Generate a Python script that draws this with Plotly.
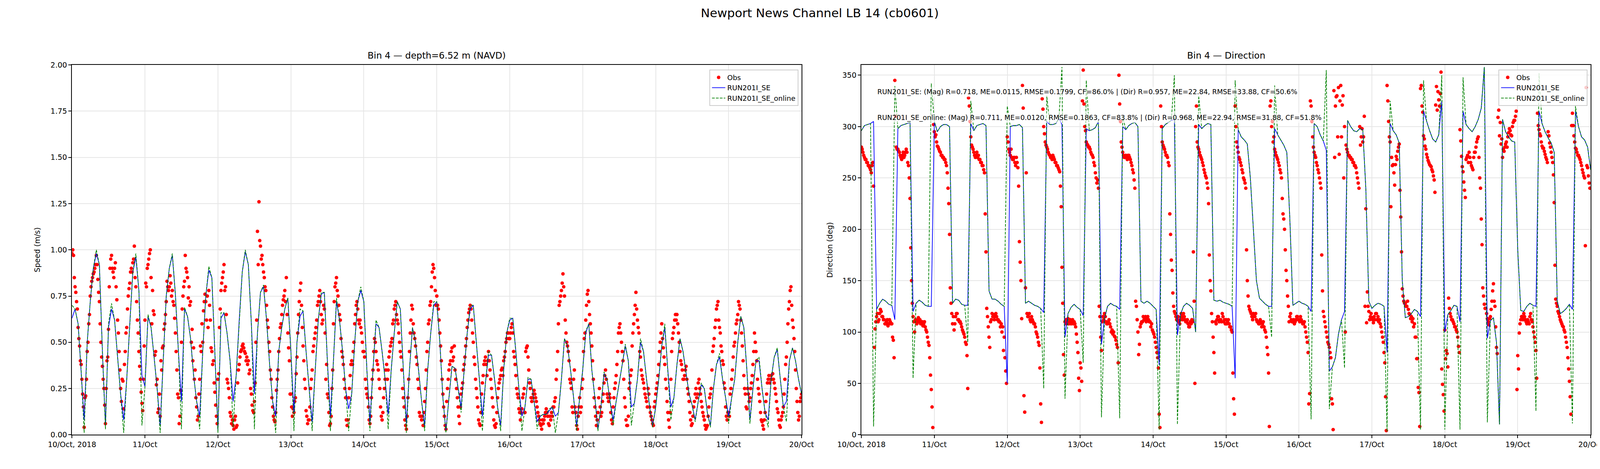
import pandas as pd
import plotly.graph_objects as go

# === Data: 10-20 Oct 2018 ===
start = "2018-10-10"
day_labels = ["10/Oct, 2018", "11/Oct", "12/Oct", "13/Oct", "14/Oct", "15/Oct",
              "16/Oct", "17/Oct", "18/Oct", "19/Oct", "20/Oct"]

# observed speed (m/s), on the hour and half hour, one list per day
obs_spd_10 = [0.98,0.97,0.80,0.72,0.58,0.48,0.38,0.22,0.04,0.21,0.45,0.60,0.75,0.83,0.87,0.90,0.97,0.84,0.72,0.50,0.37,0.25,0.06,0.40,
              0.57,0.90,0.97,0.88,0.90,0.80,0.62,0.45,0.25,0.30,0.14,0.45,0.58,0.75,0.82,0.90,0.93,1.02,0.80,0.62,0.45,0.30,0.17,0.30]
obs_spd_11 = [0.62,0.80,0.92,0.98,0.85,0.78,0.65,0.45,0.30,0.14,0.10,0.35,0.48,0.60,0.72,0.80,0.80,0.82,0.78,0.70,0.55,0.35,0.20,0.10,
              0.50,0.75,0.83,0.90,0.85,0.80,0.72,0.57,0.47,0.35,0.15,0.10,0.30,0.45,0.50,0.72,0.72,0.75,0.78,0.62,0.45,0.40,0.23,0.10]
obs_spd_12 = [0.30,0.58,0.78,0.85,0.92,0.80,0.30,0.25,0.12,0.06,0.05,0.08,0.04,0.28,0.38,0.45,0.48,0.47,0.44,0.42,0.40,0.35,0.22,0.13,
              0.18,0.50,1.10,1.26,1.02,0.97,0.88,0.80,0.70,0.58,0.45,0.30,0.15,0.08,0.12,0.30,0.45,0.58,0.65,0.73,0.78,0.85,0.55,0.40]
obs_spd_13 = [0.22,0.10,0.12,0.20,0.42,0.65,0.78,0.70,0.48,0.30,0.13,0.06,0.08,0.25,0.35,0.48,0.55,0.62,0.72,0.78,0.65,0.62,0.68,0.30,
              0.22,0.12,0.06,0.25,0.60,0.80,0.85,0.75,0.65,0.52,0.42,0.30,0.20,0.05,0.20,0.32,0.40,0.45,0.60,0.70,0.68,0.60,0.58,0.50]
obs_spd_14 = [0.45,0.30,0.22,0.15,0.06,0.20,0.35,0.52,0.45,0.38,0.30,0.15,0.08,0.20,0.30,0.38,0.35,0.45,0.50,0.60,0.68,0.72,0.62,0.55,
              0.45,0.35,0.20,0.08,0.03,0.20,0.45,0.62,0.68,0.55,0.48,0.38,0.25,0.10,0.08,0.05,0.18,0.35,0.50,0.62,0.72,0.88,0.90,0.78]
obs_spd_15 = [0.75,0.68,0.55,0.40,0.22,0.10,0.03,0.25,0.35,0.40,0.47,0.42,0.35,0.25,0.15,0.06,0.22,0.28,0.38,0.48,0.58,0.66,0.70,0.62,
              0.50,0.38,0.25,0.15,0.06,0.12,0.28,0.38,0.42,0.32,0.45,0.35,0.25,0.15,0.05,0.06,0.20,0.28,0.32,0.36,0.40,0.45,0.52,0.55]
obs_spd_16 = [0.52,0.58,0.55,0.42,0.32,0.22,0.14,0.08,0.14,0.22,0.12,0.47,0.42,0.28,0.20,0.20,0.24,0.20,0.15,0.10,0.06,0.03,0.06,0.10,
              0.14,0.10,0.05,0.08,0.10,0.15,0.20,0.35,0.60,0.72,0.78,0.87,0.75,0.55,0.48,0.40,0.28,0.15,0.30,0.15,0.05,0.10,0.20,0.15]
obs_spd_17 = [0.30,0.52,0.62,0.76,0.72,0.60,0.48,0.30,0.15,0.05,0.12,0.25,0.10,0.18,0.28,0.35,0.22,0.18,0.20,0.08,0.15,0.25,0.32,0.45,
              0.58,0.55,0.45,0.30,0.15,0.05,0.10,0.28,0.35,0.55,0.65,0.77,0.62,0.55,0.42,0.32,0.28,0.22,0.18,0.25,0.15,0.10,0.06,0.15]
obs_spd_18 = [0.22,0.28,0.38,0.50,0.60,0.47,0.38,0.25,0.12,0.04,0.30,0.52,0.58,0.65,0.65,0.55,0.45,0.38,0.30,0.32,0.37,0.25,0.18,0.08,
              0.06,0.15,0.22,0.20,0.28,0.25,0.18,0.12,0.08,0.03,0.05,0.15,0.22,0.35,0.48,0.58,0.68,0.72,0.58,0.48,0.40,0.28,0.15,0.08]
obs_spd_19 = [0.12,0.22,0.30,0.42,0.50,0.60,0.65,0.70,0.62,0.48,0.32,0.22,0.14,0.22,0.20,0.28,0.38,0.55,0.45,0.30,0.22,0.12,0.07,0.03,
              0.12,0.22,0.30,0.28,0.32,0.33,0.28,0.22,0.14,0.08,0.04,0.10,0.15,0.30,0.42,0.60,0.72,0.80,0.62,0.52,0.35,0.18,0.08,0.18,0.22]

# observed speed at quarter past / quarter to
obs_spd_10b = [1.00,0.85,0.77,0.68,0.52,0.40,0.30,0.15,0.20,0.30,0.50,0.65,0.80,0.85,0.88,0.92,0.92,0.77,0.60,0.42,0.30,0.16,0.25,0.42,
               0.80,0.95,0.90,0.85,0.93,0.73,0.55,0.35,0.18,0.29,0.38,0.55,0.68,0.79,0.88,0.88,0.95,0.85,0.72,0.55,0.37,0.23,0.13,0.48]
obs_spd_11b = [0.82,0.90,0.95,1.00,0.60,0.67,0.43,0.27,0.12,0.22,0.40,0.47,0.57,0.65,0.83,0.78,0.86,0.75,0.72,0.63,0.45,0.22,0.06,0.24,
               0.68,0.80,0.97,0.88,0.74,0.70,0.50,0.40,0.30,0.20,0.08,0.22,0.48,0.60,0.67,0.76,0.62,0.58,0.70,0.47,0.38,0.28,0.16,0.06]
obs_spd_12b = [0.33,0.68,0.82,0.88,0.78,0.65,0.28,0.20,0.10,0.08,0.03,0.10,0.05,0.35,0.42,0.46,0.49,0.45,0.40,0.38,0.33,0.25,0.16,0.12,
               0.28,0.62,0.92,1.05,0.95,0.92,0.85,0.78,0.62,0.50,0.35,0.20,0.10,0.07,0.24,0.35,0.52,0.60,0.70,0.75,0.72,0.65,0.47,0.22]
obs_spd_13b = [0.15,0.14,0.18,0.33,0.55,0.72,0.82,0.58,0.40,0.25,0.10,0.08,0.15,0.30,0.45,0.52,0.58,0.70,0.75,0.72,0.60,0.70,0.55,0.38,
               0.20,0.05,0.10,0.35,0.72,0.82,0.78,0.70,0.62,0.45,0.38,0.25,0.08,0.08,0.25,0.38,0.38,0.50,0.65,0.72,0.62,0.62,0.55,0.45]
obs_spd_14b = [0.42,0.25,0.20,0.08,0.10,0.30,0.45,0.50,0.40,0.35,0.25,0.10,0.12,0.25,0.35,0.30,0.42,0.48,0.52,0.62,0.70,0.65,0.60,0.50,
               0.42,0.25,0.15,0.05,0.10,0.30,0.55,0.70,0.60,0.52,0.42,0.30,0.12,0.10,0.10,0.12,0.25,0.45,0.60,0.70,0.80,0.92,0.85,0.70]
obs_spd_15b = [0.70,0.62,0.48,0.30,0.15,0.05,0.18,0.30,0.38,0.45,0.40,0.48,0.30,0.20,0.10,0.15,0.25,0.35,0.42,0.52,0.62,0.68,0.68,0.55,
               0.42,0.30,0.20,0.08,0.05,0.22,0.32,0.40,0.38,0.40,0.40,0.30,0.20,0.08,0.04,0.12,0.25,0.30,0.35,0.32,0.42,0.50,0.55,0.52]
obs_spd_16b = [0.55,0.60,0.45,0.38,0.25,0.20,0.12,0.12,0.20,0.25,0.45,0.48,0.35,0.25,0.18,0.22,0.22,0.18,0.12,0.08,0.05,0.08,0.08,0.12,
               0.12,0.06,0.10,0.12,0.15,0.18,0.30,0.45,0.70,0.75,0.82,0.80,0.62,0.50,0.45,0.30,0.25,0.12,0.35,0.12,0.03,0.15,0.12,0.25]
obs_spd_17b = [0.45,0.55,0.70,0.78,0.65,0.55,0.40,0.20,0.10,0.08,0.20,0.15,0.12,0.22,0.32,0.30,0.20,0.22,0.12,0.06,0.20,0.28,0.38,0.55,
               0.60,0.50,0.40,0.20,0.08,0.05,0.25,0.32,0.48,0.60,0.70,0.68,0.58,0.45,0.35,0.30,0.25,0.20,0.15,0.22,0.12,0.08,0.05,0.18]
obs_spd_18b = [0.25,0.32,0.45,0.55,0.52,0.42,0.30,0.18,0.08,0.12,0.45,0.55,0.62,0.62,0.60,0.50,0.40,0.35,0.30,0.35,0.30,0.22,0.12,0.05,
               0.10,0.18,0.25,0.22,0.30,0.22,0.15,0.10,0.05,0.04,0.10,0.20,0.25,0.45,0.52,0.62,0.70,0.62,0.55,0.45,0.38,0.25,0.10,0.12]
obs_spd_19b = [0.10,0.25,0.35,0.48,0.55,0.62,0.72,0.68,0.55,0.40,0.25,0.15,0.25,0.18,0.25,0.32,0.45,0.50,0.40,0.25,0.18,0.08,0.05,0.08,
               0.18,0.28,0.32,0.30,0.30,0.30,0.25,0.18,0.12,0.05,0.08,0.12,0.22,0.38,0.50,0.68,0.78,0.70,0.58,0.45,0.25,0.12,0.10,0.20]

# observed direction (deg), on the hour and half hour
obs_dir_10 = [280,275,270,268,265,262,258,262,242,103,115,110,118,120,115,112,108,112,108,110,108,92,345,280,
              278,275,270,272,270,275,275,262,230,150,115,100,110,112,110,108,110,108,105,100,90,75,44,7]
obs_dir_11 = [295,292,281,278,275,272,270,268,262,240,195,128,108,102,115,118,112,110,105,100,95,88,45,320,
              290,280,275,270,275,272,268,265,262,255,178,115,95,110,118,117,115,115,112,110,108,105,95,62]
obs_dir_12 = [290,278,272,270,268,265,270,260,188,150,340,38,143,118,115,112,115,110,108,100,95,87,30,327,
              300,285,280,275,272,270,272,268,265,262,258,242,163,78,110,108,113,110,108,112,110,105,90,55]
obs_dir_13 = [70,52,355,300,285,282,280,275,272,265,255,245,240,115,82,115,118,110,108,112,105,102,100,95,
              88,70,322,285,275,270,272,268,272,268,262,255,240,125,100,88,108,110,112,115,113,112,110,108]
obs_dir_14 = [100,95,85,75,20,320,285,280,275,272,265,215,170,138,120,115,112,110,112,115,118,112,110,108,
              105,108,110,130,300,285,278,272,268,262,255,250,240,175,140,110,80,110,112,115,112,110,115,112]
obs_dir_15 = [112,110,108,105,100,35,320,285,275,268,262,255,248,240,150,125,120,115,118,115,112,110,108,110,
              108,105,100,85,60,320,300,285,278,272,268,262,255,230,210,180,150,125,115,112,110,108,112,115]
obs_dir_16 = [112,115,110,108,105,95,80,40,320,290,275,270,262,255,245,175,120,110,100,90,85,75,30,335,
              320,330,338,325,290,330,300,282,275,272,270,268,265,262,255,245,300,290,285,310,220,139,120,115]
obs_dir_17 = [114,109,112,118,115,112,105,95,80,37,340,305,285,270,263,243,271,276,283,212,142,130,128,125,
              122,117,115,113,108,95,74,41,337,320,291,281,273,267,263,261,256,248,321,316,326,332,64,39]
obs_dir_18 = [102,82,66,123,115,112,108,105,100,86,297,271,256,238,268,272,275,265,260,270,275,285,290,250,
              210,143,127,123,113,107,115,130,147,125,85,309,291,283,270,276,283,280,294,296,291,304,306,315]
obs_dir_19 = [77,99,112,115,118,112,108,110,115,112,105,95,82,313,297,291,281,279,273,268,295,284,275,265,
              226,132,125,118,112,108,105,100,90,75,52,20,313,291,279,275,272,268,262,255,250,338,260,245,240]

# observed direction at quarter past / quarter to
obs_dir_10b = [278,272,268,265,262,260,255,265,85,110,118,112,122,115,112,108,110,106,112,108,95,75,310,278,
               276,272,268,275,272,278,265,250,182,128,110,112,108,114,112,110,106,110,102,95,87,58,27,302]
obs_dir_11b = [290,285,280,276,272,270,268,265,255,225,143,118,115,108,118,112,110,108,102,98,90,77,328,305,
               282,278,272,272,270,268,265,262,258,215,123,105,85,112,115,112,118,112,110,105,100,82,75,50]
obs_dir_12b = [285,275,278,268,270,262,265,242,168,113,318,22,255,115,118,110,112,108,105,98,90,65,12,317,
               293,282,278,273,270,268,270,265,262,260,256,222,128,58,112,110,108,112,110,108,108,98,80,43]
obs_dir_13b = [65,325,322,296,283,280,278,273,270,262,250,248,125,95,110,112,115,108,110,108,100,98,96,92,
               85,350,305,280,272,270,270,272,270,265,258,248,130,112,78,105,110,115,112,110,115,110,105,102]
obs_dir_14b = [98,90,80,65,7,300,282,278,272,270,262,195,160,125,118,112,115,108,118,112,115,110,112,105,
               110,112,178,50,320,280,275,270,265,258,252,245,225,150,118,95,60,108,115,110,112,118,110,108]
obs_dir_15b = [108,112,105,102,60,20,300,280,270,265,258,250,245,180,135,122,118,112,115,118,110,108,112,105,
               110,102,95,78,8,325,305,290,275,270,265,258,250,215,200,160,135,110,118,110,112,110,115,112]
obs_dir_16b = [110,112,108,110,100,90,30,325,305,280,272,265,258,250,240,140,115,105,95,88,80,35,5,270,
               329,290,273,340,321,250,100,278,272,270,268,265,262,260,250,240,282,298,290,125,109,125,112,118]
obs_dir_17b = [112,115,118,112,110,108,100,90,70,4,325,290,222,262,255,263,268,280,238,178,135,128,125,130,
               118,113,110,105,95,74,46,8,340,314,288,278,270,265,262,258,252,236,339,334,320,353,49,23]
obs_dir_18b = [74,79,133,118,112,110,105,102,95,80,286,261,246,231,270,265,270,262,258,275,280,288,270,240,
               185,135,123,118,110,113,122,140,130,105,79,316,304,288,278,280,285,290,298,292,300,306,310,44]
obs_dir_19b = [64,108,115,112,115,110,112,108,118,110,100,90,55,301,293,285,279,276,270,265,291,280,270,253,
               165,128,120,115,110,106,102,95,85,64,37,301,301,285,278,272,270,265,258,252,184,262,252,240]

# model speed (m/s), hourly
se_spd = [0.63,0.68,0.60,0.35,0.08,0.50,0.72,0.90,0.98,0.92,0.45,0.05,0.58,0.68,0.62,0.42,0.22,0.08,0.30,0.60,0.88,0.96,0.78,0.32,
          0.26,0.64,0.58,0.42,0.25,0.05,0.40,0.75,0.90,0.97,0.76,0.45,0.18,0.68,0.64,0.52,0.32,0.18,0.10,0.45,0.75,0.89,0.85,0.45,
          0.02,0.63,0.66,0.55,0.40,0.18,0.32,0.62,0.88,0.99,0.92,0.60,0.22,0.55,0.77,0.80,0.62,0.38,0.18,0.10,0.45,0.58,0.68,0.74,
          0.45,0.12,0.50,0.64,0.67,0.45,0.25,0.07,0.35,0.62,0.76,0.77,0.40,0.10,0.40,0.72,0.62,0.45,0.25,0.14,0.22,0.50,0.72,0.78,
          0.72,0.35,0.07,0.35,0.60,0.58,0.45,0.30,0.11,0.35,0.55,0.72,0.68,0.35,0.06,0.35,0.58,0.50,0.35,0.18,0.05,0.35,0.55,0.70,
          0.72,0.50,0.20,0.02,0.20,0.37,0.36,0.25,0.15,0.35,0.55,0.68,0.70,0.50,0.30,0.10,0.28,0.43,0.43,0.30,0.15,0.05,0.35,0.55,
          0.62,0.63,0.45,0.25,0.10,0.15,0.30,0.30,0.18,0.07,0.10,0.11,0.11,0.13,0.15,0.10,0.12,0.30,0.52,0.48,0.35,0.20,0.05,0.20,
          0.35,0.55,0.60,0.35,0.20,0.03,0.15,0.33,0.30,0.18,0.08,0.18,0.28,0.38,0.48,0.40,0.15,0.17,0.30,0.50,0.45,0.30,0.15,0.05,
          0.15,0.30,0.48,0.58,0.35,0.15,0.20,0.38,0.52,0.45,0.33,0.22,0.16,0.08,0.18,0.27,0.25,0.12,0.05,0.25,0.38,0.42,0.30,0.20,
          0.10,0.20,0.30,0.50,0.64,0.58,0.35,0.08,0.25,0.40,0.40,0.25,0.12,0.08,0.30,0.42,0.46,0.30,0.15,0.18,0.40,0.47,0.40,0.30,
          0.22]
online_spd = [0.70,0.68,0.60,0.35,0.01,0.50,0.72,0.90,1.00,0.92,0.45,0.03,0.60,0.71,0.62,0.42,0.22,0.01,0.30,0.60,0.88,0.98,0.78,0.05,
              0.26,0.65,0.58,0.42,0.25,0.01,0.40,0.75,0.90,0.98,0.76,0.45,0.03,0.69,0.64,0.52,0.32,0.18,0.03,0.45,0.75,0.91,0.85,0.45,
              0.01,0.66,0.66,0.55,0.40,0.04,0.32,0.62,0.88,1.00,0.92,0.60,0.03,0.55,0.77,0.81,0.62,0.38,0.18,0.01,0.45,0.58,0.68,0.74,
              0.45,0.02,0.50,0.68,0.67,0.45,0.25,0.02,0.35,0.62,0.77,0.77,0.40,0.02,0.40,0.74,0.62,0.45,0.25,0.02,0.22,0.50,0.72,0.80,
              0.72,0.35,0.02,0.35,0.62,0.58,0.45,0.30,0.03,0.35,0.55,0.72,0.68,0.35,0.01,0.35,0.58,0.50,0.35,0.18,0.02,0.35,0.55,0.72,
              0.72,0.50,0.20,0.01,0.20,0.37,0.36,0.25,0.12,0.35,0.55,0.70,0.70,0.50,0.30,0.02,0.28,0.45,0.43,0.30,0.15,0.02,0.35,0.55,
              0.63,0.63,0.45,0.25,0.02,0.15,0.31,0.30,0.18,0.03,0.10,0.11,0.11,0.14,0.15,0.01,0.12,0.30,0.52,0.48,0.35,0.20,0.02,0.20,
              0.35,0.56,0.60,0.35,0.20,0.02,0.15,0.34,0.30,0.18,0.05,0.18,0.28,0.38,0.49,0.40,0.05,0.17,0.30,0.52,0.45,0.30,0.15,0.04,
              0.15,0.30,0.48,0.60,0.35,0.08,0.20,0.38,0.52,0.45,0.33,0.22,0.16,0.07,0.18,0.28,0.25,0.12,0.04,0.25,0.38,0.44,0.30,0.20,
              0.06,0.20,0.30,0.50,0.64,0.58,0.35,0.06,0.25,0.40,0.42,0.25,0.12,0.04,0.30,0.42,0.47,0.30,0.15,0.07,0.40,0.47,0.40,0.30,
              0.22]

# model direction (deg), hourly
se_dir = [296,301,302,303,305,122,128,132,130,127,126,112,298,301,302,303,304,120,128,131,129,126,125,125,
          305,295,300,302,302,300,128,132,131,127,126,126,303,296,301,302,303,301,140,132,132,130,127,125,
          50,300,301,301,302,299,128,130,128,126,125,123,119,305,302,302,303,308,302,95,118,124,127,124,
          122,116,298,296,297,299,305,88,113,125,128,126,125,122,300,297,301,303,304,300,130,128,130,128,
          125,122,68,298,302,304,306,307,97,117,125,128,126,123,100,302,298,301,303,302,131,130,131,129,
          128,127,125,55,297,290,287,283,250,200,150,133,130,127,125,125,298,292,287,282,275,210,126,128,
          130,128,127,125,120,303,300,292,286,277,62,66,75,98,112,120,306,300,296,295,298,297,240,130,
          123,126,128,127,125,80,303,296,292,284,150,114,115,118,122,120,115,315,305,296,288,285,292,325,
          100,117,121,126,125,110,315,302,298,295,300,307,318,358,94,111,114,90,10,307,295,290,286,285,
          180,121,120,125,128,126,125,315,303,295,289,284,275,130,118,120,123,127,122,315,300,290,287,280,
          258]
online_dir = [296,301,302,303,8,122,128,132,130,127,126,340,298,301,302,303,304,55,128,131,129,126,125,342,
              305,295,300,302,302,300,128,132,131,127,126,90,325,296,301,302,303,301,140,132,132,130,127,125,
              320,300,301,301,302,299,128,130,128,126,125,123,45,330,302,302,303,308,358,35,118,124,127,124,
              122,70,345,296,297,299,305,17,113,125,128,126,125,16,310,297,301,303,304,300,130,128,130,128,
              125,122,5,298,302,304,306,350,10,117,125,128,126,123,100,330,298,301,303,302,131,130,131,129,
              128,127,125,345,297,290,287,283,250,200,150,133,130,127,125,95,340,292,287,282,275,210,126,128,
              130,128,127,125,15,303,300,292,286,355,25,66,75,98,112,65,306,300,296,295,298,297,240,130,
              123,126,128,127,125,3,325,296,292,284,150,114,115,118,122,120,5,345,305,296,288,285,292,350,
              5,117,121,126,125,5,348,302,298,295,300,307,318,358,12,111,114,90,10,307,295,290,286,285,
              180,121,120,125,128,126,23,352,303,295,289,284,275,130,118,120,123,127,11,320,300,290,287,280,
              258]

stats_se = ("RUN201I_SE: (Mag) R=0.718, ME=0.0115, RMSE=0.1799, CF=86.0% | "
            "(Dir) R=0.957, ME=22.84, RMSE=33.88, CF=50.6%")
stats_online = ("RUN201I_SE_online: (Mag) R=0.711, ME=0.0120, RMSE=0.1863, CF=83.8% | "
                "(Dir) R=0.968, ME=22.94, RMSE=31.88, CF=51.8%")

# --- build time axes ---
day_starts = pd.date_range(start, periods=11, freq="D")
obs_spd_a = [obs_spd_10, obs_spd_11, obs_spd_12, obs_spd_13, obs_spd_14,
             obs_spd_15, obs_spd_16, obs_spd_17, obs_spd_18, obs_spd_19]
obs_spd_b = [obs_spd_10b, obs_spd_11b, obs_spd_12b, obs_spd_13b, obs_spd_14b,
             obs_spd_15b, obs_spd_16b, obs_spd_17b, obs_spd_18b, obs_spd_19b]
obs_dir_a = [obs_dir_10, obs_dir_11, obs_dir_12, obs_dir_13, obs_dir_14,
             obs_dir_15, obs_dir_16, obs_dir_17, obs_dir_18, obs_dir_19]
obs_dir_b = [obs_dir_10b, obs_dir_11b, obs_dir_12b, obs_dir_13b, obs_dir_14b,
             obs_dir_15b, obs_dir_16b, obs_dir_17b, obs_dir_18b, obs_dir_19b]


def stack_days(a_lists, b_lists):
  tt, vv = [], []
  for d0, va, vb in zip(day_starts, a_lists, b_lists):
    tt += list(pd.date_range(d0, periods=len(va), freq="30min"))
    vv += va
    tt += list(pd.date_range(d0 + pd.Timedelta(minutes=15), periods=len(vb), freq="30min"))
    vv += vb
  return tt, vv


t_obs_spd, obs_spd = stack_days(obs_spd_a, obs_spd_b)
t_obs_dir, obs_dir = stack_days(obs_dir_a, obs_dir_b)
t_mod = pd.date_range(start, periods=len(se_spd), freq="h")
t_mod_dir = pd.date_range(start, periods=len(se_dir), freq="h")

# --- page geometry ---
# the page is photographed with a css viewport of about 4167 x 1200 px and the
# default 8px body margin; positions below are read in 5000x1200 reference px
VW, VH, MARG = 4167, 1200, 8
W, H = VW - 2 * MARG, VH - 2 * MARG


def fx(px):
  return (px * VW / 5000 - MARG) / W


def fy(py):
  return 1 - (py * VH / 1200 - MARG) / H


FONT = "DejaVu Sans"
x_left = [fx(150), fx(2443)]
x_right = [fx(2631), fx(4923)]
y_dom = [fy(1122), fy(158)]

fig = go.Figure()

panels = [
  ("x", "y", "legend", t_obs_spd, obs_spd, t_mod, se_spd, online_spd),
  ("x2", "y2", "legend2", t_obs_dir, obs_dir, t_mod_dir, se_dir, online_dir),
]
for xa, ya, lg, to, vo, tm, v1, v2 in panels:
  fig.add_trace(go.Scatter(
      x=to, y=vo, mode="markers", name="Obs",
      marker=dict(color="#ff0000", size=9, line=dict(width=0)),
      xaxis=xa, yaxis=ya, legend=lg))
  fig.add_trace(go.Scatter(
      x=tm, y=v1, mode="lines", name="RUN201I_SE",
      line=dict(color="#0000ff", width=1.8),
      xaxis=xa, yaxis=ya, legend=lg))
  fig.add_trace(go.Scatter(
      x=tm, y=v2, mode="lines", name="RUN201I_SE_online",
      line=dict(color="#008000", width=1.8, dash="7px,3px"),
      xaxis=xa, yaxis=ya, legend=lg))

tick_font = dict(family=FONT, size=19, color="black")
xcommon = dict(
    type="date", range=[day_starts[0], day_starts[-1]],
    tickvals=list(day_starts), ticktext=day_labels,
    showgrid=True, gridcolor="#e6e6e6", gridwidth=1.8,
    showline=True, linecolor="black", linewidth=1.8, mirror=True,
    ticks="outside", ticklen=7, tickwidth=1.8, tickcolor="black",
    tickfont=tick_font, zeroline=False,
)
ycommon = dict(
    showgrid=True, gridcolor="#e6e6e6", gridwidth=1.8,
    showline=True, linecolor="black", linewidth=1.8, mirror=True,
    ticks="outside", ticklen=7, tickwidth=1.8, tickcolor="black",
    tickfont=tick_font, zeroline=False, domain=y_dom,
)
spd_ticks = [0, 0.25, 0.5, 0.75, 1.0, 1.25, 1.5, 1.75, 2.0]
dir_ticks = [0, 50, 100, 150, 200, 250, 300, 350]

legend_style = dict(
    font=dict(family=FONT, size=18, color="black"),
    bgcolor="rgba(255,255,255,0.8)", bordercolor="#cccccc", borderwidth=1.8,
    xanchor="right", yanchor="top", itemwidth=34, y=fy(170),
)

fig.update_layout(
    width=W, height=H,
    margin=dict(l=0, r=0, t=0, b=0),
    paper_bgcolor="white", plot_bgcolor="white",
    font=dict(family=FONT, size=19, color="black"),
    showlegend=True,
    xaxis=dict(xcommon, domain=x_left, anchor="y"),
    yaxis=dict(ycommon, range=[0, 2], tickvals=spd_ticks,
               ticktext=[f"{v:.2f}" for v in spd_ticks], anchor="x"),
    xaxis2=dict(xcommon, domain=x_right, anchor="y2"),
    yaxis2=dict(ycommon, range=[0, 360], tickvals=dir_ticks, anchor="x2"),
    legend=dict(legend_style, x=fx(2433)),
    legend2=dict(legend_style, x=fx(4913)),
)

ymid = (y_dom[0] + y_dom[1]) / 2
notes = [
    dict(x=fx(2500), y=fy(22), text="Newport News Channel LB 14 (cb0601)", size=31),
    dict(x=sum(x_left) / 2, y=fy(133), text="Bin 4 — depth=6.52 m (NAVD)", size=23),
    dict(x=sum(x_right) / 2, y=fy(133), text="Bin 4 — Direction", size=23),
    dict(x=fx(41), y=ymid, text="Speed (m/s)", size=19, angle=-90),
    dict(x=fx(2532), y=ymid, text="Direction (deg)", size=19, angle=-90),
]
for n in notes:
  fig.add_annotation(
      xref="paper", yref="paper", x=n["x"], y=n["y"], text=n["text"],
      showarrow=False, xanchor="center", yanchor="middle",
      textangle=n.get("angle", 0),
      font=dict(family=FONT, size=n["size"], color="black"))

for txt, yy in [(stats_se, 0.927), (stats_online, 0.857)]:
  fig.add_annotation(
      xref="x2 domain", yref="y2 domain", x=0.0205, y=yy, text=txt,
      showarrow=False, xanchor="left", yanchor="middle",
      bgcolor="rgba(255,255,255,0.6)", borderpad=2,
      font=dict(family=FONT, size=17.5, color="black"))

fig.write_html("out.html")
